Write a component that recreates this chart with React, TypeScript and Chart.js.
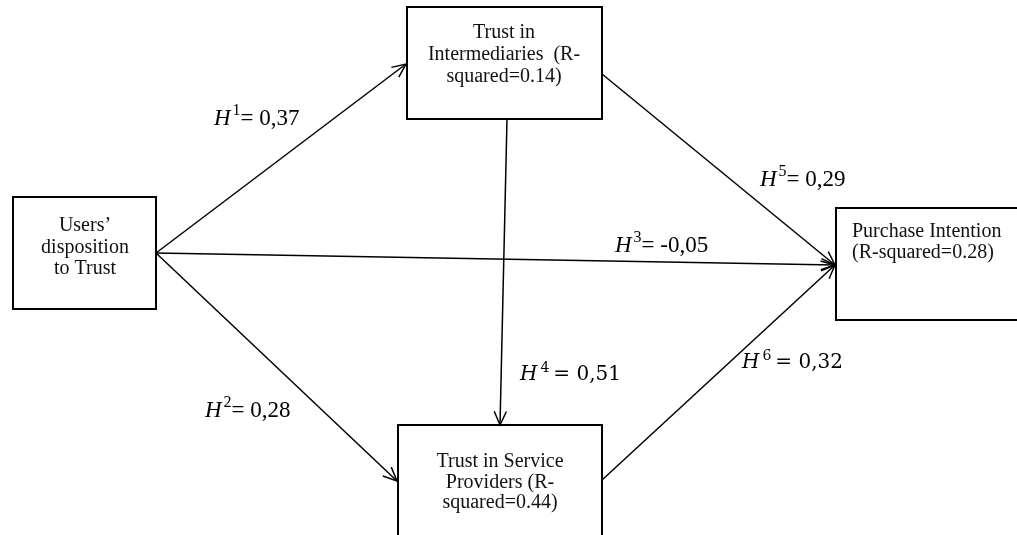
import { useEffect, useRef } from "react";
import { Chart, registerables } from "chart.js";
Chart.register(...registerables);

// ---- data ----
const nodeLabels: string[][] = [
  ["Users’", "disposition", "to Trust"],
  ["Trust in", "Intermediaries  (R-", "squared=0.14)"],
  ["Trust in Service", "Providers (R-", "squared=0.44)"],
  ["Purchase Intention", "(R-squared=0.28)"],
];
const hypotheses = ["1", "2", "3", "4", "5", "6"];
const coefficients = ["0,37", "0,28", "-0,05", "0,51", "0,29", "0,32"];
const pathFrom = [0, 0, 0, 1, 1, 2];
const pathTo = [1, 2, 3, 2, 3, 3];

// ---- layout (diagram units on the hidden linear scales) ----
const boxes = [
  { l: 13, t: 197, r: 156, b: 309 },
  { l: 407, t: 7, r: 602, b: 119 },
  { l: 398, t: 425, r: 602, b: 560 },
  { l: 836, t: 208, r: 1030, b: 320 },
];
const textLayout = [
  { x: 85, align: "center", baselines: [231, 253, 274] },
  { x: 504, align: "center", baselines: [38, 60, 82] },
  { x: 500, align: "center", baselines: [467, 488, 508] },
  { x: 852, align: "left", baselines: [237, 258] },
];
const pathStart = [
  { x: 156, y: 253 },
  { x: 156, y: 253 },
  { x: 156, y: 253 },
  { x: 507, y: 119 },
  { x: 602, y: 74 },
  { x: 602, y: 480 },
];
const pathEnd = [
  { x: 406, y: 64 },
  { x: 397, y: 481 },
  { x: 835, y: 265 },
  { x: 500, y: 425 },
  { x: 835, y: 265 },
  { x: 835, y: 265 },
];
const labelPos = [
  { x: 214, y: 125, math: false },
  { x: 205, y: 417, math: false },
  { x: 615, y: 252, math: false },
  { x: 520, y: 380, math: true },
  { x: 760, y: 186, math: false },
  { x: 742, y: 368, math: true },
];

const SERIF = "'Liberation Serif', 'Times New Roman', serif";
const MATH = "'DejaVu Serif', serif";

const diagramPlugin = {
  id: "diagram",
  afterDatasetsDraw(chart: any) {
    const ctx = chart.ctx as CanvasRenderingContext2D;
    const xs = chart.scales.x;
    const ys = chart.scales.y;
    ctx.save();
    // boxes
    ctx.strokeStyle = "#000";
    ctx.lineWidth = 2;
    boxes.forEach((b) => {
      const l = xs.getPixelForValue(b.l);
      const r = xs.getPixelForValue(b.r);
      const t = ys.getPixelForValue(b.t);
      const bt = ys.getPixelForValue(b.b);
      ctx.strokeRect(l, t, r - l, bt - t);
    });
    // node text
    ctx.fillStyle = "#111";
    ctx.font = `20px ${SERIF}`;
    ctx.textBaseline = "alphabetic";
    nodeLabels.forEach((lines, i) => {
      const tl = textLayout[i];
      ctx.textAlign = tl.align as CanvasTextAlign;
      lines.forEach((s, j) => {
        ctx.fillText(s, xs.getPixelForValue(tl.x), ys.getPixelForValue(tl.baselines[j]));
      });
    });
    // arrowheads
    ctx.strokeStyle = "#000";
    ctx.lineWidth = 1.5;
    chart.data.datasets.forEach((_d: any, i: number) => {
      const meta = chart.getDatasetMeta(i);
      const p0 = meta.data[0];
      const p1 = meta.data[1];
      const ang = Math.atan2(p1.y - p0.y, p1.x - p0.x);
      const len = 15;
      const spread = 0.42;
      ctx.beginPath();
      ctx.moveTo(p1.x - len * Math.cos(ang - spread), p1.y - len * Math.sin(ang - spread));
      ctx.lineTo(p1.x, p1.y);
      ctx.lineTo(p1.x - len * Math.cos(ang + spread), p1.y - len * Math.sin(ang + spread));
      ctx.stroke();
    });
    // path labels
    ctx.textAlign = "left";
    ctx.fillStyle = "#000";
    hypotheses.forEach((h, i) => {
      const lp = labelPos[i];
      let x = xs.getPixelForValue(lp.x);
      const y = ys.getPixelForValue(lp.y);
      const fam = lp.math ? MATH : SERIF;
      const size = lp.math ? 20 : 23;
      ctx.font = `italic ${size}px ${fam}`;
      ctx.fillText("H", x, y);
      x += ctx.measureText("H").width + (lp.math ? 3 : 2);
      ctx.font = `${Math.round(size * 0.7)}px ${fam}`;
      ctx.fillText(h, x, y - size * 0.42);
      x += ctx.measureText(h).width + (lp.math ? 4 : 0);
      ctx.font = `${size}px ${fam}`;
      ctx.fillText("= " + coefficients[i], x, y);
    });
    ctx.restore();
  },
};

export default function App() {
  const ref = useRef<HTMLCanvasElement | null>(null);
  useEffect(() => {
    if (!ref.current) return;
    const datasets = hypotheses.map((h, i) => ({
      label: "H" + h + " (" + pathFrom[i] + "→" + pathTo[i] + ")",
      data: [pathStart[i], pathEnd[i]],
      showLine: true,
      borderColor: "#000",
      borderWidth: 1.5,
      pointRadius: 0,
      pointHoverRadius: 0,
      fill: false,
    }));
    const chart = new Chart(ref.current, {
      type: "scatter",
      data: { datasets },
      options: {
        responsive: false,
        animation: false,
        layout: { padding: 0 },
        plugins: { legend: { display: false }, tooltip: { enabled: false } },
        scales: {
          x: { type: "linear", min: 0, max: 1017, display: false },
          y: { type: "linear", min: 0, max: 535, reverse: true, display: false },
        },
      },
      plugins: [diagramPlugin],
    });
    return () => chart.destroy();
  }, []);
  return (
    <div style={{ position: "absolute", left: 0, top: 0, width: 1017, height: 535, background: "#fff" }}>
      <canvas ref={ref} width={1017} height={535} />
    </div>
  );
}
